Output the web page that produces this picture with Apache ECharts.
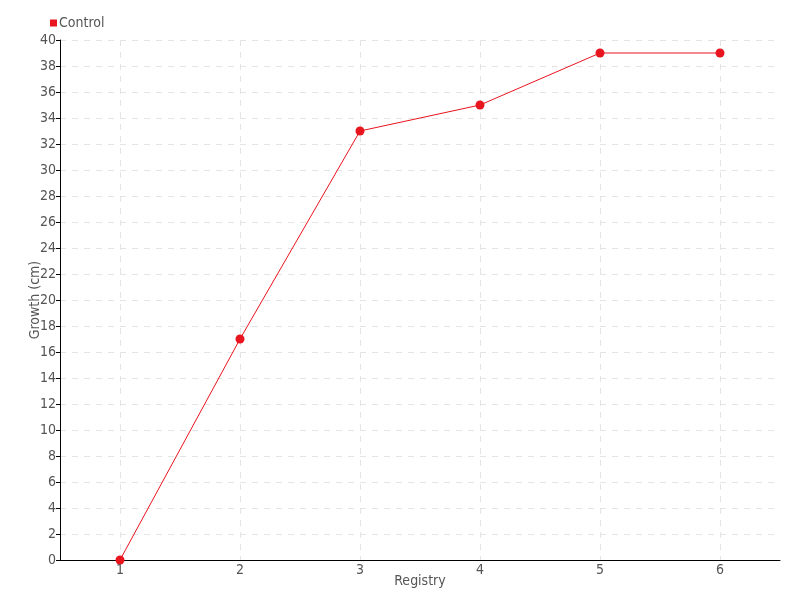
<!DOCTYPE html>
<html>
<head>
<meta charset="utf-8">
<script src="https://cdn.jsdelivr.net/npm/echarts@6/dist/echarts.min.js"></script>
<style>
  html, body { margin: 0; padding: 0; background: #fff; }
  #chart { width: 800px; height: 600px; }
</style>
</head>
<body>
<div id="chart"></div>
<script>
const categories = ['1', '2', '3', '4', '5', '6']
const controlValues = [0, 17, 33, 35, 39, 39]
const seriesName = 'Control'

const font = '"DejaVu Sans Condensed", "Liberation Sans Narrow", sans-serif'
const textColor = '#555'

const chart = echarts.init(document.getElementById('chart'))
chart.setOption({
  animation: false,
  color: ['#e8141e'],
  textStyle: { fontFamily: font },
  legend: {
    left: 45,
    top: 11,
    itemWidth: 7,
    itemHeight: 7,
    itemGap: 4,
    icon: 'rect',
    textStyle: { color: textColor, fontSize: 14, fontFamily: font, padding: [0, 0, 0, -3] },
    data: [seriesName]
  },
  grid: {
    left: 60,
    right: 20,
    top: 40,
    bottom: 40,
    containLabel: false,
    outerBoundsMode: 'none'
  },
  xAxis: {
    type: 'category',
    data: categories,
    boundaryGap: true,
    name: 'Registry',
    nameLocation: 'middle',
    nameGap: 14,
    nameMoveOverlap: false,
    nameTextStyle: { color: textColor, fontSize: 14, fontFamily: font },
    axisLine: { lineStyle: { color: '#000', width: 1 } },
    axisTick: { alignWithLabel: true, length: 5, lineStyle: { color: '#000' } },
    axisLabel: { color: textColor, fontSize: 14, fontFamily: font, margin: 3 },
    splitLine: {
      show: true,
      alignWithLabel: true,
      lineStyle: { color: '#e4e4e4', type: [6, 6] }
    }
  },
  yAxis: {
    type: 'value',
    min: 0,
    max: 40,
    interval: 2,
    name: 'Growth (cm)',
    nameLocation: 'middle',
    nameGap: 18,
    nameMoveOverlap: false,
    nameTextStyle: { color: textColor, fontSize: 14, fontFamily: font },
    axisLine: { show: true, lineStyle: { color: '#000', width: 1 } },
    axisTick: { show: true, length: 4, lineStyle: { color: '#000' } },
    axisLabel: { color: textColor, fontSize: 14, fontFamily: font, margin: 4 },
    splitLine: { show: true, lineStyle: { color: '#e4e4e4', type: [6, 6] } }
  },
  series: [
    {
      name: seriesName,
      type: 'line',
      data: controlValues,
      symbol: 'circle',
      symbolSize: 9,
      lineStyle: { width: 1, color: '#e8141e' },
      itemStyle: { color: '#e8141e' }
    }
  ]
})
</script>
</body>
</html>
